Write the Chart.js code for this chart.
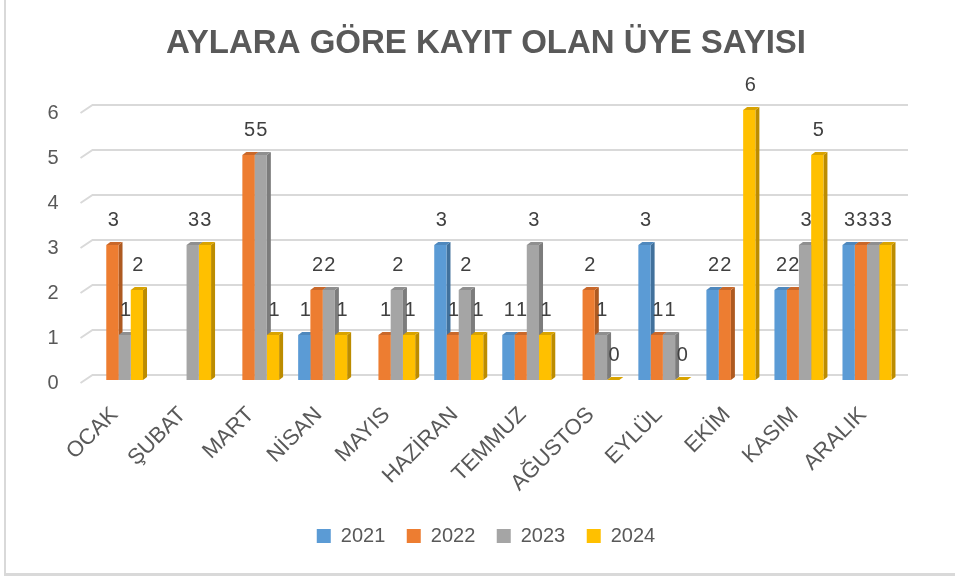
<!DOCTYPE html>
<html>
<head>
<meta charset="utf-8">
<script src="https://cdn.jsdelivr.net/npm/chart.js@4"></script>
<style>
  html, body { margin: 0; padding: 0; background: #fff; }
  #frame { position: absolute; left: 4px; top: 0; width: 960px; height: 573px;
           border-left: 2px solid #d9d9d9; border-bottom: 3px solid #d9d9d9; pointer-events: none; }
  canvas { position: absolute; left: 0; top: 0; }
</style>
</head>
<body>
<canvas id="chart" width="955" height="579"></canvas>
<div id="frame"></div>
<script>
const months = ['OCAK', 'ŞUBAT', 'MART', 'NİSAN', 'MAYIS', 'HAZİRAN', 'TEMMUZ', 'AĞUSTOS', 'EYLÜL', 'EKİM', 'KASIM', 'ARALIK'];
const years = ['2021', '2022', '2023', '2024'];
const values2021 = [null, null, null, 1, null, 3, 1, null, 3, 2, 2, 3];
const values2022 = [3, null, 5, 2, 1, 1, 1, 2, 1, 2, 2, 3];
const values2023 = [1, 3, 5, 2, 2, 2, 3, 1, 1, null, 3, 3];
const values2024 = [2, 3, 1, 1, 1, 1, 1, 0, 0, 6, 5, 3];
const yTicks = [0, 1, 2, 3, 4, 5, 6];

const FRONT = ['#5b9bd5', '#ed7d31', '#a5a5a5', '#ffc000'];
const SIDE = ['#41719c', '#ae5a21', '#7c7c7c', '#bc8c00'];
const TOP = ['#4f88bd', '#c9682a', '#8f8f8f', '#d9a300'];
const FONT = "'Liberation Sans', Arial, sans-serif";
const DX = 4, DY = 3;

// back wall grid with a short slanted floor edge, like the 3D office chart
const grid3d = {
  id: 'grid3d',
  beforeDatasetsDraw(chart) {
    const { ctx, chartArea, scales: { y } } = chart;
    ctx.save();
    ctx.strokeStyle = '#d9d9d9';
    ctx.lineWidth = 2;
    yTicks.forEach(v => {
      const py = y.getPixelForValue(v);
      ctx.beginPath();
      ctx.moveTo(chartArea.left - 4, py + 3);
      ctx.lineTo(chartArea.left + 8, py - 5);
      ctx.lineTo(chartArea.right + 7, py - 5);
      ctx.stroke();
    });
    ctx.restore();
  }
};

// side and top faces, drawn before the front faces so neighbours hide them
const bars3d = {
  id: 'bars3d',
  beforeDatasetsDraw(chart) {
    const ctx = chart.ctx;
    ctx.save();
    chart.data.datasets.forEach((ds, di) => {
      chart.getDatasetMeta(di).data.forEach((bar, i) => {
        if (ds.data[i] === null) return;
        const { x, y, base, width } = bar.getProps(['x', 'y', 'base', 'width'], true);
        const l = x - width / 2, r = x + width / 2;
        ctx.fillStyle = SIDE[di];
        ctx.beginPath();
        ctx.moveTo(r, y); ctx.lineTo(r + DX, y - DY);
        ctx.lineTo(r + DX, base - DY); ctx.lineTo(r, base);
        ctx.closePath(); ctx.fill();
        ctx.fillStyle = TOP[di];
        ctx.beginPath();
        ctx.moveTo(l, y); ctx.lineTo(l + DX, y - DY);
        ctx.lineTo(r + DX, y - DY); ctx.lineTo(r, y);
        ctx.closePath(); ctx.fill();
      });
    });
    ctx.restore();
  },
  afterDatasetsDraw(chart) {
    const ctx = chart.ctx;
    ctx.save();
    ctx.font = '20px ' + FONT;
    ctx.fillStyle = '#404040';
    ctx.textAlign = 'center';
    ctx.textBaseline = 'middle';
    chart.data.datasets.forEach((ds, di) => {
      chart.getDatasetMeta(di).data.forEach((bar, i) => {
        if (ds.data[i] === null) return;
        const { x, y } = bar.getProps(['x', 'y'], true);
        ctx.fillText(String(ds.data[i]), x + 1, y - 25);
      });
    });
    ctx.restore();
  }
};

const series = [values2021, values2022, values2023, values2024];

new Chart(document.getElementById('chart'), {
  type: 'bar',
  data: {
    labels: months,
    datasets: series.map((vals, i) => ({
      label: years[i],
      data: vals,
      backgroundColor: FRONT[i],
      borderWidth: 0,
      categoryPercentage: 0.72,
      barPercentage: 1,
    })),
  },
  options: {
    responsive: false,
    animation: false,
    devicePixelRatio: 1,
    layout: { padding: { left: 71, right: 54, top: 0, bottom: 23 } },
    plugins: {
      title: {
        display: true,
        text: 'AYLARA GÖRE KAYIT OLAN ÜYE SAYISI',
        color: '#595959',
        font: { family: FONT, size: 33, weight: 'bold' },
        padding: { top: 24.5, bottom: 45.9 },
      },
      legend: {
        position: 'bottom',
        labels: {
          color: '#595959',
          font: { family: FONT, size: 20 },
          boxWidth: 14,
          boxHeight: 14,
          padding: 21.5,
        },
      },
      tooltip: { enabled: false },
    },
    scales: {
      x: {
        grid: { display: false, drawTicks: false },
        border: { display: false },
        ticks: {
          color: '#595959',
          font: { family: FONT, size: 22 },
          minRotation: 45,
          maxRotation: 45,
          autoSkip: false,
          padding: 22,
          labelOffset: -4,
        },
        afterFit(s) { s.height = 124.5; s.paddingLeft = 0; s.paddingRight = 0; },
      },
      y: {
        min: 0,
        max: 6,
        grid: { display: false, drawTicks: false },
        border: { display: false },
        ticks: {
          stepSize: 1,
          color: '#595959',
          font: { family: FONT, size: 20 },
          mirror: true,
          crossAlign: 'far',
          padding: -37,
          labelOffset: 3,
        },
        afterFit(s) { s.width = 13.5; },
      },
    },
  },
  plugins: [grid3d, bars3d],
});
</script>
</body>
</html>
